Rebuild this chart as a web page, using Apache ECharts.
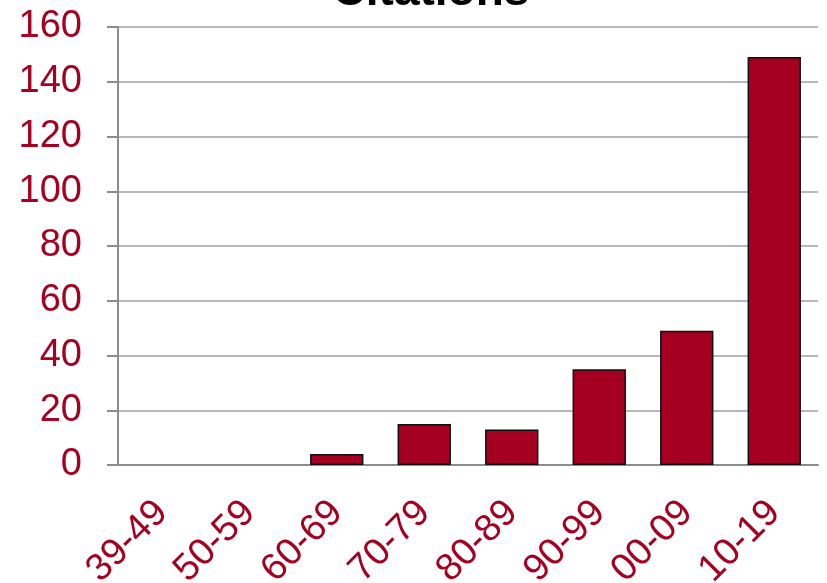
<html>
<head>
  <meta charset='utf-8' />
  <script src="https://cdn.jsdelivr.net/npm/echarts@6/dist/echarts.min.js"></script>
</head>
<body style="margin: 0; background-color: #ffffff">
  <div id="main" style="width: 827px; height: 583px;"></div>
  <script type="text/javascript">
    var chartTitle = 'Citations';
    var decades = ['39-49', '50-59', '60-69', '70-79', '80-89', '90-99', '00-09', '10-19'];
    var citations = [0, 0, 4, 15, 13, 35, 49, 149];
    var yTicks = [0, 20, 40, 60, 80, 100, 120, 140, 160];

    var red = '#a50021';
    var myChart = echarts.init(document.getElementById('main'));
    // empty decades get no outline, like the original
    var barData = citations.map(function(v) {
        return {value: v, itemStyle: {borderWidth: v > 0 ? 1.5 : 0}};
    });
    var option = {
        animation: false,
        title: {
            text: chartTitle, left: 426, textAlign: 'center', top: -36,
            textStyle: {fontFamily: 'Liberation Sans', fontWeight: 'bold', fontSize: 46, color: '#000'}
        },
        grid: {left: 118, right: 9, top: 27, bottom: 118, outerBoundsMode: 'none', containLabel: false},
        xAxis: {
            type: 'category', data: decades,
            axisLine: {lineStyle: {color: '#8c8c8c', width: 2}},
            axisTick: {inside: true, length: 10, lineStyle: {color: '#8c8c8c', width: 2}},
            axisLabel: {
                rotate: 45, margin: 42, color: red, fontSize: 38, fontFamily: 'Liberation Sans',
                interval: 0
            }
        },
        yAxis: {
            type: 'value', min: yTicks[0], max: yTicks[yTicks.length - 1], interval: 20,
            axisLine: {show: true, lineStyle: {color: '#8c8c8c', width: 2}},
            axisTick: {show: true, length: 11, lineStyle: {color: '#8c8c8c', width: 2}},
            splitLine: {lineStyle: {color: '#a0a0a0', width: 1.5}},
            axisLabel: {color: red, fontSize: 38, fontFamily: 'Liberation Sans', margin: 36}
        },
        series: [{
            type: 'bar', data: barData, barCategoryGap: '39%',
            itemStyle: {color: red, borderColor: '#111', borderWidth: 1.5}
        }]
    };
    myChart.setOption(option);
  </script>
</body>
</html>
